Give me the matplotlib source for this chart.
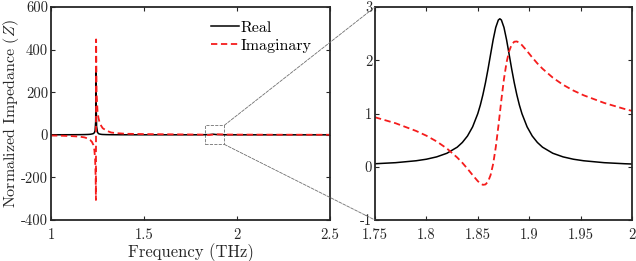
import numpy as np
import matplotlib
matplotlib.use('Agg')
import matplotlib.pyplot as plt
from matplotlib.patches import Rectangle, ConnectionPatch

### =======================================================================
### Values
### =======================================================================

# full range (left panel)
f_wide = [1.0, 1.05, 1.1, 1.15, 1.18, 1.2, 1.21, 1.22, 1.228, 1.233, 1.237,
          1.24, 1.2415, 1.242, 1.2425, 1.245, 1.25, 1.255, 1.26, 1.27, 1.278,
          1.3, 1.323, 1.35, 1.4, 1.5, 1.7, 1.8, 1.85, 1.872, 1.888, 1.95, 2.0,
          2.2, 2.5]
re_wide = [0.3, 0.4, 0.5, 0.8, 1.2, 1.8, 2.5, 4, 6, 10, 20,
           60, 160, 312, 160, 40, 12, 6, 4, 2.2, 1.6,
           0.9, 0.6, 0.4, 0.3, 0.2, 0.1, 0.15, 1.0, 2.8, 1.35, 0.15, 0.05,
           0.02, 0.01]
im_wide = [-3, -4, -5.5, -8, -12, -18, -24, -33, -48, -71, -110,
           -200, -306, 70, 448, 200, 110, 80, 62, 42, 31,
           19, 11, 8, 5, 3.5, 2, 1.3, -0.3, 1.0, 2.35, 1.35, 1.05,
           0.6, 0.3]

# zoomed range (right panel)
f_zoom = [1.75, 1.77, 1.79, 1.80, 1.81, 1.82, 1.83, 1.835, 1.84, 1.845,
          1.85, 1.8525, 1.855, 1.8575, 1.86, 1.8625, 1.865, 1.8675, 1.87,
          1.8715, 1.873, 1.8755, 1.878, 1.8805, 1.883, 1.8855, 1.888, 1.8905,
          1.893, 1.898, 1.903, 1.908, 1.913, 1.923, 1.933, 1.943, 1.953,
          1.973, 1.993, 2.0]
re_zoom = [0.057, 0.077, 0.113, 0.142, 0.186, 0.254, 0.368, 0.457, 0.578, 0.750,
           0.997, 1.159, 1.353, 1.579, 1.836, 2.114, 2.388, 2.617, 2.756,
           2.780, 2.756, 2.617, 2.388, 2.114, 1.836, 1.579, 1.353, 1.159,
           0.997, 0.750, 0.578, 0.457, 0.368, 0.254, 0.186, 0.142, 0.113,
           0.077, 0.057, 0.052]
im_zoom = [0.930, 0.818, 0.673, 0.584, 0.476, 0.343, 0.174, 0.075, -0.037, -0.156,
           -0.269, -0.313, -0.339, -0.332, -0.278, -0.155, 0.057, 0.365, 0.753,
           1.008, 1.262, 1.650, 1.959, 2.171, 2.294, 2.349, 2.354, 2.329,
           2.285, 2.173, 2.053, 1.941, 1.842, 1.674, 1.540, 1.432, 1.343,
           1.199, 1.085, 1.050]

xt_wide = [1, 1.5, 2, 2.5]
xt_wide_lab = ['1', '1.5', '2', '2.5']
yt_wide = [-400, -200, 0, 200, 400, 600]
yt_wide_lab = ['-400', '-200', '0', '200', '400', '600']
xt_zoom = [1.75, 1.8, 1.85, 1.9, 1.95, 2.0]
xt_zoom_lab = ['1.75', '1.8', '1.85', '1.9', '1.95', '2']
yt_zoom = [-1, 0, 1, 2, 3]
yt_zoom_lab = ['-1', '0', '1', '2', '3']

### =======================================================================
### Style (MATLAB-ish with latex fonts)
### =======================================================================

plt.rcParams['font.family'] = 'serif'
plt.rcParams['font.serif'] = ['cmr10']
plt.rcParams['mathtext.fontset'] = 'cm'
plt.rcParams['axes.unicode_minus'] = False
plt.rcParams['xtick.direction'] = 'in'
plt.rcParams['ytick.direction'] = 'in'
plt.rcParams['xtick.top'] = True
plt.rcParams['ytick.right'] = True

grey = '#262626'
red = '#f51c1c'
dash = (3.5, 2.0)

fig = plt.figure(figsize=(6.36, 2.61), dpi=100)
ax1 = fig.add_axes([0.0802, 0.157, 0.4387, 0.816])
ax2 = fig.add_axes([0.5896, 0.157, 0.404, 0.816])

### =======================================================================
### Left panel
### =======================================================================

ax1.plot(f_wide, re_wide, '-', c='k', lw=1.1, label='Real')
ax1.plot(f_wide, im_wide, '--', c=red, lw=1.3, dashes=dash, label='Imaginary')
ax1.set_xlim(1, 2.5)
ax1.set_ylim(-400, 600)
ax1.set_xticks(xt_wide)
ax1.set_xticklabels(xt_wide_lab)
ax1.set_yticks(yt_wide)
ax1.set_yticklabels(yt_wide_lab)
ax1.set_xlabel('Frequency (THz)', fontsize=12, color=grey, labelpad=1)
ax1.set_ylabel(r'Normalized Impedance ($Z$)', fontsize=11.5, color=grey, labelpad=0)
ax1.legend(loc='upper left', bbox_to_anchor=(0.535, 0.99), frameon=False,
           fontsize=11.5, handlelength=1.7, handletextpad=0.1, labelspacing=0.25,
           borderaxespad=0.3)

# zoom box
box_x = (1.828, 1.932)
box_y = (-45, 45)
ax1.add_patch(Rectangle((box_x[0], box_y[0]), box_x[1] - box_x[0],
                        box_y[1] - box_y[0], fill=False, ls='--',
                        ec='#707070', lw=0.6))

### =======================================================================
### Right panel
### =======================================================================

ax2.plot(f_zoom, re_zoom, '-', c='k', lw=1.1)
ax2.plot(f_zoom, im_zoom, '--', c=red, lw=1.3, dashes=dash)
ax2.set_xlim(1.75, 2.0)
ax2.set_ylim(-1, 3)
ax2.set_xticks(xt_zoom)
ax2.set_xticklabels(xt_zoom_lab)
ax2.set_yticks(yt_zoom)
ax2.set_yticklabels(yt_zoom_lab)

for ax in (ax1, ax2):
    for s in ax.spines.values():
        s.set_linewidth(1.3)
        s.set_color(grey)
    ax.tick_params(labelsize=10.5, colors=grey, length=3, width=0.8)
    ax.tick_params(axis='x', pad=6)
    ax.tick_params(axis='y', pad=2)

# connector lines
for yb, ya in ((box_y[1], 1), (box_y[0], 0)):
    con = ConnectionPatch(xyA=(box_x[1], yb), coordsA=ax1.transData,
                          xyB=(0, ya), coordsB=ax2.transAxes,
                          ls='--', color='#707070', lw=0.6)
    fig.add_artist(con)

plt.savefig('out.png', dpi=100)
